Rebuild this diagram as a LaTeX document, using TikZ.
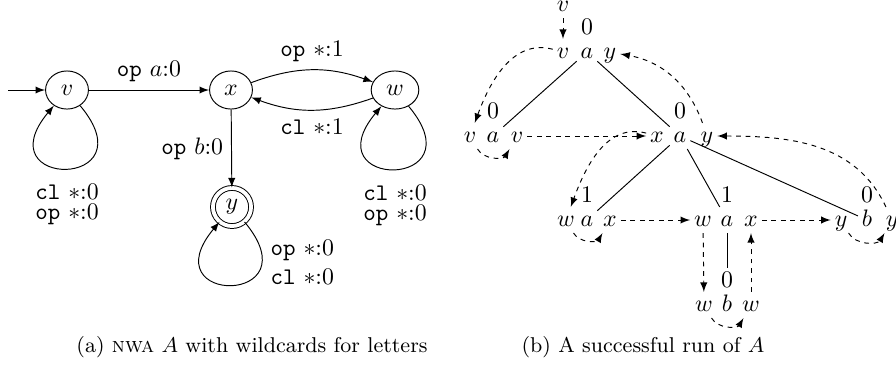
\documentclass[tikz,border=0pt]{standalone}
\usetikzlibrary{positioning,shapes.geometric}

\tikzset{
  loc/.style={ellipse,draw,minimum width=18pt,minimum height=16pt,inner sep=1pt},
  cell/.style={inner sep=1.5pt,text height=1.5ex,text depth=.25ex},
  pass/.style={->,dash pattern=on 2pt off 2pt},
  under/.style={pass,bend right=60},
  selfloop/.style={->,out=-50,in=-130,min distance=46pt}
}

\begin{document}
\begin{tikzpicture}[x=0.42pt,y=-0.42pt,>=latex]
	\useasboundingbox (0,0) rectangle (896,364);
	% (a) the automaton
	\coordinate (in) at (8,90);
	\node[loc] (v) at (67,90) {$v$};
	\node[loc] (x) at (231,90) {$x$};
	\node[loc,minimum width=20pt] (w) at (395,90) {$w$};
	\node[loc,circle,minimum size=16pt,double,double distance=1.6pt] (y) at (232,207) {$y$};
	\draw[->] (in) -- (v);
	\draw[->] (v) -- node[above] {\texttt{op} $a$:0} (x);
	\draw[->] (x) to[bend left=20] node[above] {\texttt{op} $*$:1} (w);
	\draw[->] (w) to[bend left=20] node[below] {\texttt{cl} $*$:1} (x);
	\draw[->] (x) -- node[left] {\texttt{op} $b$:0} (y);
	\draw[selfloop] (v) to
		node[below=3pt,align=center] {\texttt{cl} $*$:0\\[-3.6pt]\texttt{op} $*$:0} (v);
	\draw[selfloop] (w) to
		node[below=3pt,align=center] {\texttt{cl} $*$:0\\[-3.6pt]\texttt{op} $*$:0} (w);
	\draw[selfloop] (y) to
		node[pos=0.2,right,align=left] {\texttt{op} $*$:0\\[0.5pt]\texttt{cl} $*$:0} (y);
	\node (capa) at (252,347) {\small (a) \textsc{nwa} $A$ with wildcards for letters};

	% (b) the run
	\node[cell] (r0) at (563,5) {$v$};
	\node[cell] (t1l) at (563,52) {$v$};
	\node[cell] (t1a) at (587,52) {$a$};
	\node[cell] (t1r) at (610,52) {$y$};
	\node[cell,above=-1pt of t1a] (t1n) {0};
	\node[cell] (t2l) at (470,136) {$v$};
	\node[cell] (t2a) at (493,136) {$a$};
	\node[cell] (t2r) at (517,136) {$v$};
	\node[cell,above=-1pt of t2a] (t2n) {0};
	\node[cell] (t3l) at (657,136) {$x$};
	\node[cell] (t3a) at (680,136) {$a$};
	\node[cell] (t3r) at (707,136) {$y$};
	\node[cell,above=-1pt of t3a] (t3n) {0};
	\node[cell] (t4l) at (566,220) {$w$};
	\node[cell] (t4a) at (587,220) {$a$};
	\node[cell] (t4r) at (610,220) {$x$};
	\node[cell,above=-1pt of t4a] (t4n) {1};
	\node[cell] (t5l) at (703,220) {$w$};
	\node[cell] (t5a) at (727,220) {$a$};
	\node[cell] (t5r) at (751,220) {$x$};
	\node[cell,above=-1pt of t5a] (t5n) {1};
	\node[cell] (t6l) at (841,220) {$y$};
	\node[cell] (t6a) at (867,220) {$b$};
	\node[cell] (t6r) at (892,220) {$y$};
	\node[cell,above=-1pt of t6a] (t6n) {0};
	\node[cell] (t7l) at (704,305) {$w$};
	\node[cell] (t7a) at (727,305) {$b$};
	\node[cell] (t7r) at (751,305) {$w$};
	\node[cell,above=-1pt of t7a] (t7n) {0};
	% tree edges
	\draw (t1a) -- (t2a);
	\draw (t1a) -- (t3a);
	\draw (t3a) -- (t4a);
	\draw (t3a) -- (t5a);
	\draw (t3a) -- (t6a);
	\draw (t5a) -- (t7n);
	% states passed along
	\draw[pass] (r0) -- (t1l);
	\draw[pass] (t1l) to[out=165,in=70] (t2l);
	\draw[under] (t2l) to (t2r);
	\draw[pass] (t2r) -- (t3l);
	\draw[pass] (t3l) to[out=165,in=70] (t4l);
	\draw[under] (t4l) to (t4r);
	\draw[pass] (t4r) -- (t5l);
	\draw[pass] (t5l) -- (t7l);
	\draw[under] (t7l) to (t7r);
	\draw[pass] (t7r) -- (t5r);
	\draw[pass] (t5r) -- (t6l);
	\draw[under] (t6l) to (t6r);
	\draw[pass] (t6r) to[out=115,in=0] (t3r);
	\draw[pass] (t3r) to[bend right=30] (t1r);
	\node (capb) at (643,347) {\small (b) A successful run of $A$};
\end{tikzpicture}
\end{document}
